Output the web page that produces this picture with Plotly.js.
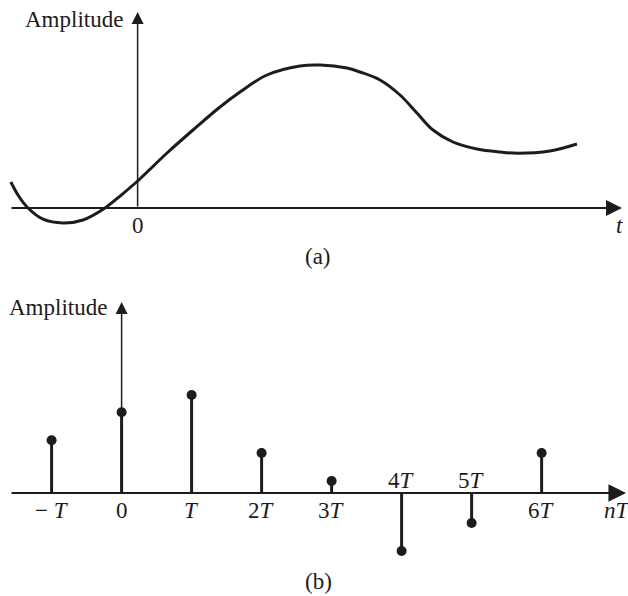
<!DOCTYPE html>
<html>
<head>
<meta charset="utf-8">
<script src="https://cdn.plot.ly/plotly-3.0.1.min.js"></script>
<style>html,body{margin:0;padding:0;background:#fff;}#chart{width:628px;height:596px;}</style>
</head>
<body>
<div id="chart"></div>
<script>
// (a) continuous signal (t in units of T)
const curveT = [-1.811, -1.70, -1.566, -1.35, -1.066, -0.78, -0.466, -0.23, 0, 0.42, 0.791, 1.177, 1.463, 1.849, 2.32, 2.606, 2.991, 3.177, 3.463, 3.749, 3.991, 4.22, 4.506, 4.849, 5.177, 5.434, 5.89, 6.277];
const curveA = [0.65, 0.30, 0.0, -0.28, -0.375, -0.30, 0.0, 0.33, 0.675, 1.375, 1.95, 2.525, 2.9, 3.325, 3.55, 3.575, 3.5, 3.4, 3.2, 2.825, 2.375, 1.95, 1.65, 1.475, 1.4, 1.37, 1.425, 1.6];

// (b) sampled signal
const sampleN = [-1, 0, 1, 2, 3, 4, 5, 6];
const sampleA = [1.32, 2.02, 2.45, 1.0, 0.3, -1.45, -0.75, 1.0];
const sampleLabels = ["\u2212 <i>T</i>", "0", "<i>T</i>", "2<i>T</i>", "3<i>T</i>", "4<i>T</i>", "5<i>T</i>", "6<i>T</i>"];

const ink = "#1e1b1c";
const FONT = "'Liberation Serif', 'Times New Roman', serif";

const stemX = [], stemY = [];
sampleN.forEach((n, i) => { stemX.push(n, n, null); stemY.push(0, sampleA[i], null); });

const traces = [
  {x: curveT, y: curveA, xaxis: "x", yaxis: "y", mode: "lines",
   line: {color: ink, width: 3, shape: "spline", smoothing: 1.0}, hoverinfo: "skip"},
  {x: stemX, y: stemY, xaxis: "x2", yaxis: "y2", mode: "lines",
   line: {color: ink, width: 3}, hoverinfo: "skip"},
  {x: sampleN, y: sampleA, xaxis: "x2", yaxis: "y2", mode: "markers",
   marker: {color: ink, size: 10}, hoverinfo: "skip"}
];

function arrow(xref, yref, x0, y0, x1, y1, w) {
  return {xref: xref, yref: yref, axref: xref, ayref: yref, x: x1, y: y1, ax: x0, ay: y0,
          text: "", showarrow: true, arrowhead: 2, arrowsize: 1.6, arrowwidth: w,
          arrowcolor: ink, standoff: 0, startstandoff: 0};
}
function label(xref, yref, x, y, text, opts) {
  return Object.assign({xref: xref, yref: yref, x: x, y: y, text: text, showarrow: false,
          font: {family: FONT, size: 23, color: ink}, xanchor: "center", yanchor: "middle",
          borderpad: 0}, opts || {});
}

const ann = [
  arrow("x", "y", -1.823, 0, 6.92, 0, 2),
  arrow("x", "y", 0, 0, 0, 4.9, 1.5),
  arrow("x2", "y2", -1.594, 0, 7.206, 0, 2.2),
  arrow("x2", "y2", 0, 0, 0, 4.775, 1.5),
  label("x", "y", 0, -0.425, "0"),
  label("x", "y", 6.88, -0.425, "<i>t</i>"),
  label("paper", "paper", 318 / 628, 1 - 256 / 596, "(a)"),
  label("paper", "paper", 24 / 628, 1 - 20 / 596, "Amplitude", {xanchor: "left"}),
  label("paper", "paper", 8 / 628, 1 - 307 / 596, "Amplitude", {xanchor: "left"}),
  label("paper", "paper", 318 / 628, 1 - 581 / 596, "(b)"),
  label("x2", "y2", 6.87, -0.425, "<i>nT</i>", {xanchor: "left"})
];
sampleN.forEach((n, i) => {
  const above = sampleA[i] < 0;
  ann.push(label("x2", "y2", n, above ? 0.325 : -0.425, sampleLabels[i]));
});

const layout = {
  width: 628, height: 596, margin: {l: 0, r: 0, t: 0, b: 0},
  paper_bgcolor: "#fff", plot_bgcolor: "#fff", showlegend: false,
  xaxis: {domain: [0, 1], range: [-1.966, 7.006], visible: false, anchor: "y"},
  yaxis: {domain: [0.5, 1], range: [-2.25, 5.2], visible: false, anchor: "x"},
  xaxis2: {domain: [0, 1], range: [-1.737, 7.234], visible: false, anchor: "y2"},
  yaxis2: {domain: [0, 0.5], range: [-2.575, 4.875], visible: false, anchor: "x2"},
  annotations: ann
};

Plotly.newPlot("chart", traces, layout, {displayModeBar: false, staticPlot: true});
</script>
</body>
</html>
